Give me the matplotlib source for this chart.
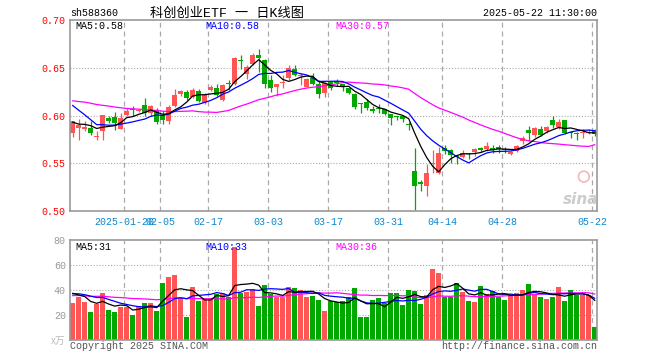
import numpy as np
import matplotlib
matplotlib.use("Agg")
import matplotlib.pyplot as plt

# 科创创业ETF daily candles, 2025-01-07 .. 2025-05-22 (88 sessions)
opens = [0.5814, 0.5869, 0.5855, 0.5866, 0.5779, 0.5838, 0.5970, 0.5986, 0.5862, 0.6007,
         0.6065, 0.6052, 0.6114, 0.6028, 0.6062, 0.6000, 0.5941, 0.6103, 0.6224, 0.6241,
         0.6193, 0.6259, 0.6131, 0.6262, 0.6290, 0.6162, 0.6340, 0.6327, 0.6580, 0.6431,
         0.6539, 0.6630, 0.6581, 0.6372, 0.6302, 0.6340, 0.6390, 0.6487, 0.6410, 0.6302,
         0.6396, 0.6330, 0.6239, 0.6348, 0.6365, 0.6330, 0.6285, 0.6222, 0.6128, 0.6146,
         0.6073, 0.6078, 0.6066, 0.6014, 0.5992, 0.5990, 0.5905, 0.5420, 0.5302, 0.5257,
         0.5495, 0.5400, 0.5658, 0.5640, 0.5572, 0.5562, 0.5600, 0.5622, 0.5656, 0.5653,
         0.5660, 0.5674, 0.5650, 0.5594, 0.5628, 0.5733, 0.5847, 0.5792, 0.5861, 0.5837,
         0.5951, 0.5882, 0.5948, 0.5822, 0.5812, 0.5818, 0.5815, 0.5837]
highs = [0.5945, 0.5966, 0.5938, 0.5945, 0.5838, 0.6010, 0.5993, 0.6034, 0.6021, 0.6079,
         0.6103, 0.6072, 0.6186, 0.6110, 0.6076, 0.6045, 0.6110, 0.6279, 0.6262, 0.6269,
         0.6286, 0.6276, 0.6234, 0.6321, 0.6328, 0.6330, 0.6370, 0.6610, 0.6634, 0.6530,
         0.6651, 0.6696, 0.6590, 0.6424, 0.6330, 0.6424, 0.6529, 0.6529, 0.6445, 0.6390,
         0.6445, 0.6372, 0.6355, 0.6355, 0.6378, 0.6335, 0.6292, 0.6240, 0.6135, 0.6170,
         0.6101, 0.6125, 0.6073, 0.6014, 0.6000, 0.5997, 0.5934, 0.5656, 0.5320, 0.5493,
         0.5640, 0.5665, 0.5690, 0.5650, 0.5580, 0.5639, 0.5610, 0.5663, 0.5674, 0.5722,
         0.5687, 0.5687, 0.5670, 0.5629, 0.5687, 0.5785, 0.5889, 0.5882, 0.5889, 0.5889,
         0.6000, 0.5965, 0.5950, 0.5837, 0.5826, 0.5854, 0.5861, 0.5854]
lows = [0.5779, 0.5745, 0.5835, 0.5797, 0.5745, 0.5745, 0.5917, 0.5848, 0.5855, 0.6000,
        0.5993, 0.6038, 0.6000, 0.6000, 0.5907, 0.5907, 0.5914, 0.6093, 0.6200, 0.6166,
        0.6179, 0.6145, 0.6124, 0.6255, 0.6200, 0.6155, 0.6270, 0.6320, 0.6484, 0.6380,
        0.6529, 0.6459, 0.6290, 0.6243, 0.6204, 0.6285, 0.6370, 0.6414, 0.6320, 0.6300,
        0.6316, 0.6186, 0.6197, 0.6270, 0.6310, 0.6257, 0.6222, 0.6066, 0.6031, 0.6059,
        0.6031, 0.6024, 0.6003, 0.5903, 0.5955, 0.5927, 0.5851, 0.5007, 0.5205, 0.5153,
        0.5400, 0.5390, 0.5600, 0.5500, 0.5494, 0.5550, 0.5540, 0.5576, 0.5622, 0.5628,
        0.5611, 0.5611, 0.5605, 0.5587, 0.5620, 0.5698, 0.5733, 0.5778, 0.5785, 0.5819,
        0.5872, 0.5861, 0.5802, 0.5767, 0.5743, 0.5767, 0.5802, 0.5785]
closes = [0.5938, 0.5903, 0.5883, 0.5814, 0.5783, 0.6007, 0.5940, 0.5924, 0.5969, 0.6048,
          0.6060, 0.6058, 0.6021, 0.6097, 0.5934, 0.5952, 0.6090, 0.6217, 0.6259, 0.6186,
          0.6269, 0.6155, 0.6217, 0.6303, 0.6217, 0.6319, 0.6325, 0.6605, 0.6574, 0.6511,
          0.6634, 0.6600, 0.6327, 0.6291, 0.6327, 0.6346, 0.6494, 0.6424, 0.6418, 0.6382,
          0.6330, 0.6225, 0.6344, 0.6291, 0.6340, 0.6312, 0.6240, 0.6090, 0.6122, 0.6076,
          0.6049, 0.6073, 0.6014, 0.5969, 0.5988, 0.5962, 0.5900, 0.5257, 0.5278, 0.5400,
          0.5505, 0.5610, 0.5630, 0.5588, 0.5568, 0.5604, 0.5596, 0.5653, 0.5640, 0.5680,
          0.5635, 0.5646, 0.5640, 0.5620, 0.5680, 0.5767, 0.5812, 0.5872, 0.5792, 0.5882,
          0.5896, 0.5931, 0.5819, 0.5819, 0.5808, 0.5822, 0.5830, 0.5810]
# volume, 万手
volumes = [29.9, 34.7, 30.7, 22.4, 29.1, 37.6, 24.0, 22.4, 26.7, 26.7,
           20.0, 27.2, 29.6, 29.6, 23.2, 45.6, 50.4, 52.0, 33.9, 18.7,
           42.7, 31.2, 33.9, 33.9, 37.0, 37.9, 34.7, 74.4, 37.9, 38.7,
           41.0, 27.5, 44.3, 37.0, 34.7, 34.7, 42.7, 41.9, 40.0, 34.7,
           35.5, 32.0, 23.5, 30.9, 30.1, 31.2, 34.4, 41.9, 18.7, 18.7,
           32.0, 33.9, 29.6, 37.6, 37.6, 28.0, 40.0, 39.2, 28.8, 36.0,
           57.1, 53.6, 34.7, 34.7, 45.6, 38.4, 31.2, 30.4, 43.2, 36.5,
           39.2, 34.7, 32.0, 36.0, 37.6, 40.0, 44.8, 36.0, 34.4, 32.8,
           34.4, 42.4, 31.2, 40.0, 36.0, 36.0, 36.0, 10.4]

# 29 sessions before the window, estimated so the MA lines start where they do
prior_closes = [0.612, 0.608, 0.615, 0.620, 0.625, 0.618, 0.622, 0.620, 0.626, 0.619,
                0.614, 0.621, 0.617, 0.611, 0.616, 0.620, 0.624, 0.618, 0.613, 0.617,
                0.640, 0.636, 0.633, 0.630, 0.601, 0.600, 0.590, 0.588, 0.593]
prior_volumes = [31, 38, 36, 29, 33, 40, 35, 32, 37, 34,
                 30, 36, 39, 33, 35, 38, 31, 34, 37, 37,
                 35, 38, 34, 40, 36.5, 41, 37, 42, 36.6]

date_pos = [9, 15, 23, 33, 43, 53, 62, 72, 87]
date_labels = ['2025-01-20', '02-05', '02-17', '03-03', '03-17', '03-31', '04-14', '04-28', '05-22']

RED = '#ff5555'
GREEN = '#00a800'
GRID = '#aaaaaa'
MONO = 'Liberation Mono'
FS = 7.2


def ma(prior, vals, n):
    s = np.concatenate([prior, vals])
    return np.convolve(s, np.ones(n) / n, mode='valid')[-len(vals):]


def px(x, y):
    return x / 660, 1 - y / 360


O, H, L, C = map(np.array, (opens, highs, lows, closes))
V = np.array(volumes)
x = np.arange(len(C))
colors = np.where(C >= O, RED, GREEN)

fig = plt.figure(figsize=(6.6, 3.6), dpi=100)
ax = fig.add_axes([70 / 660, 1 - 211 / 360, 527 / 660, 191 / 360])
axv = fig.add_axes([70 / 660, 1 - 340 / 360, 527 / 660, 100 / 360])

for a in (ax, axv):
    for s in a.spines.values():
        s.set_color('#999999')
        s.set_linewidth(1.2)
    for p in date_pos:
        a.axvline(p - 0.4, color=GRID, ls=(0, (4, 3)), lw=0.9, zorder=0)
    a.set_xlim(-0.45, 87.38)
    a.tick_params(length=0)

# price panel
for yv in (0.55, 0.60, 0.65):
    ax.axhline(yv, color=GRID, ls=(0, (1, 1.6)), lw=0.8, zorder=0)
ax.vlines(x, L, H, colors=colors, lw=0.9, zorder=2)
ax.bar(x, np.maximum(np.abs(C - O), 0.0009), 0.8, bottom=np.minimum(O, C),
       color=colors, lw=0, zorder=2)
ax.plot(x, ma(prior_closes, C, 30), color='#ff00ff', lw=0.9, zorder=3)
ax.plot(x, ma(prior_closes, C, 10), color='#0000ff', lw=0.9, zorder=3)
ax.plot(x, ma(prior_closes, C, 5), color='black', lw=0.9, zorder=3)
ax.set_ylim(0.50, 0.70)
ax.set_yticks([0.50, 0.55, 0.60, 0.65, 0.70])
ax.set_yticklabels(['0.50', '0.55', '0.60', '0.65', '0.70'], family=MONO, size=FS, color='#ff0000')
ax.tick_params(axis='y', pad=3)
ax.set_xticks([p - 0.4 for p in date_pos])
ax.set_xticklabels(date_labels, family=MONO, size=FS, color='#0a88d0')
ax.tick_params(axis='x', pad=4)

# volume panel
for yv in (20, 40, 60):
    axv.axhline(yv, color=GRID, ls=(0, (1, 1.6)), lw=0.8, zorder=0)
axv.bar(x, V, 0.8, color=colors, lw=0, zorder=2)
axv.plot(x, ma(prior_volumes, V, 30), color='#ff00ff', lw=0.9, zorder=3)
axv.plot(x, ma(prior_volumes, V, 10), color='#0000ff', lw=0.9, zorder=3)
axv.plot(x, ma(prior_volumes, V, 5), color='black', lw=0.9, zorder=3)
axv.set_ylim(0, 80)
axv.set_yticks([20, 40, 60, 80])
axv.set_yticklabels(['20', '40', '60', '80'], family=MONO, size=FS, color='#999999')
axv.tick_params(axis='y', pad=3)
axv.set_xticks([])

# header / labels
fig.text(*px(70, 13.5), 'sh588360', family=MONO, size=FS, va='center')
fig.text(*px(150, 13.5), '科创创业ETF 一 日K线图', family=[MONO, 'Noto Sans CJK SC'],
         size=9.5, va='center')
fig.text(*px(597, 13.5), '2025-05-22 11:30:00', family=MONO, size=FS, va='center', ha='right')
for xp, txt, col in ((75, 'MA5:0.58', 'black'), (205, 'MA10:0.58', '#0000ff'),
                     (335, 'MA30:0.57', '#ff00ff')):
    fig.text(*px(xp, 26), txt, family=MONO, size=FS, va='center', color=col)
for xp, txt, col in ((75, 'MA5:31', 'black'), (205, 'MA10:33', '#0000ff'),
                     (335, 'MA30:36', '#ff00ff')):
    fig.text(*px(xp, 247), txt, family=MONO, size=FS, va='center', color=col)
fig.text(*px(65, 341), 'x万', family=['Noto Sans CJK SC'], size=7, va='center', ha='right',
         color='#bbbbbb', style='italic')
fig.text(*px(70, 346), 'Copyright 2025 SINA.COM', family=MONO, size=FS, va='center', color='#555555')
fig.text(*px(597, 346), 'http://finance.sina.com.cn', family=MONO, size=FS, va='center',
         ha='right', color='#555555')

# sina watermark
fig.text(*px(581, 199), 'sina', size=11, weight='bold', style='italic', color='#cccccc',
         ha='center', va='center')
ax.scatter([0.975], [0.18], s=60, marker='o', facecolor='none', edgecolor='#f3b8b8',
           lw=1.2, transform=ax.transAxes, zorder=1)

fig.savefig('out.png', dpi=100)
